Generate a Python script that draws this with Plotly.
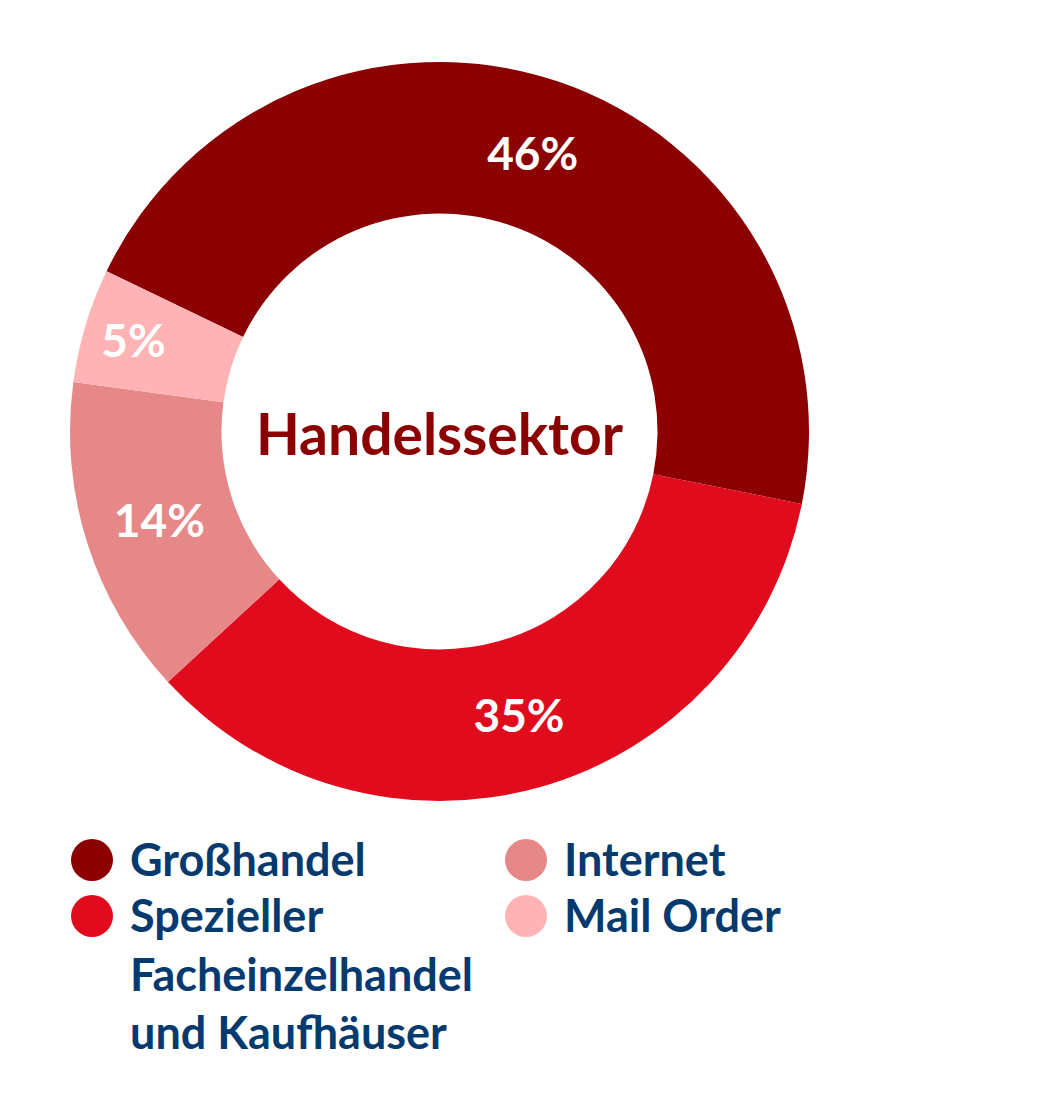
import plotly.graph_objects as go

# Dados do gráfico
categorias = ['Großhandel', 'Spezieller Facheinzelhandel und Kaufhäuser', 'Internet', 'Mail Order']
legenda_textos = ['Großhandel', 'Spezieller<br>Facheinzelhandel<br>und Kaufhäuser', 'Internet', 'Mail Order']
valores = [46, 35, 14, 5]
cores = ['#8B0000', '#E00B1C', '#E68888', '#FFB3B5']
titulo_centro = 'Handelssektor'

# Tamanho da figura
W, H = 1053, 1100
DESLOC = 8  # margem padrão do body da página
FONTE = 'Lato, Noto Sans, sans-serif'
AZUL = '#053A6E'


def px_x(v):
    return (v - DESLOC) / W


def px_y(v):
    return 1 - (v - DESLOC) / H


fig = go.Figure(go.Pie(
    labels=categorias,
    values=valores,
    marker=dict(colors=cores, line=dict(width=0)),
    hole=0.59,
    sort=False,
    direction='clockwise',
    rotation=-64.3,
    textinfo='percent',
    textposition='inside',
    insidetextorientation='horizontal',
    textfont=dict(family=FONTE, size=46, color='white', weight='bold'),
    title=dict(text='<b>' + titulo_centro + '</b>', position='middle center',
               font=dict(family=FONTE, size=57, color='#8B0000')),
    domain=dict(x=[px_x(70), px_x(809)], y=[px_y(801), px_y(62)]),
    showlegend=False,
))

# Legenda manual (duas colunas, circulos grandes)
colunas_x = [92, 526]
linhas_y = [860, 916]
raio = 21
shapes = []
annotations = []
for i, (txt, cor) in enumerate(zip(legenda_textos, cores)):
    cx = colunas_x[i // 2]
    cy = linhas_y[i % 2]
    shapes.append(dict(
        type='circle', xref='paper', yref='paper',
        x0=px_x(cx - raio), x1=px_x(cx + raio),
        y0=px_y(cy + raio), y1=px_y(cy - raio),
        fillcolor=cor, line=dict(width=0),
    ))
    annotations.append(dict(
        text='<b>' + txt + '</b>', xref='paper', yref='paper',
        x=px_x(cx + 36), y=px_y(cy - 30),
        xanchor='left', yanchor='top', align='left',
        showarrow=False,
        font=dict(family=FONTE, size=45, color=AZUL),
    ))

fig.update_layout(
    width=W, height=H,
    margin=dict(l=0, r=0, t=0, b=0),
    paper_bgcolor='white',
    plot_bgcolor='white',
    shapes=shapes,
    annotations=annotations,
)

fig.write_html('out.html')
